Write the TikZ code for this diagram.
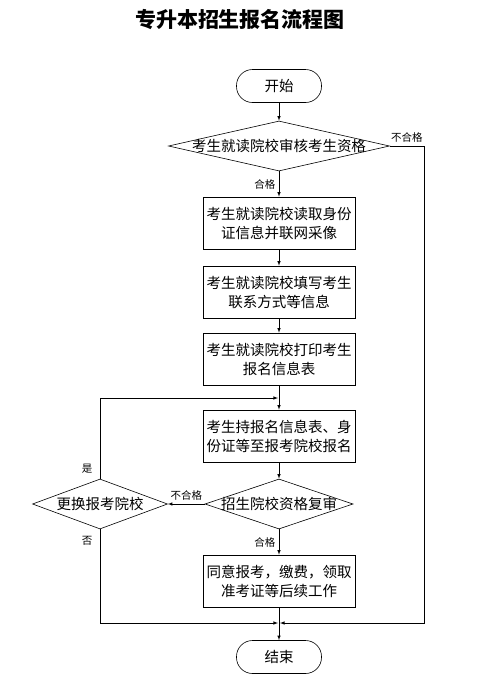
\documentclass[tikz,border=0pt]{standalone}
\usepackage{fontspec}
\setmainfont{Noto Sans CJK SC}
\usepackage{tikz}
\usetikzlibrary{shapes.geometric}

\begin{document}
\begin{tikzpicture}[x=1pt, y=-1pt, line width=0.6pt, >=latex,
  font=\fontsize{14.5}{19}\selectfont,
  term/.style={draw, rectangle, rounded corners=16pt, minimum width=85pt, minimum height=33pt},
  proc/.style={draw, rectangle, align=center, minimum width=152pt, minimum height=52pt, inner sep=2pt},
  decide/.style={draw, diamond, inner sep=0pt, minimum height=50pt},
  tag/.style={font=\fontsize{10.5}{12}\selectfont}]
\useasboundingbox (0,0) rectangle (486,689);
\node [font=\fontsize{21}{24}\selectfont\bfseries] (title) at (240,20) {专升本招生报名流程图};
\node [term] (start) at (279,86) {开始};
\node [decide, minimum width=221pt, label=center:{考生就读院校审核考生资格}] (check) at (279,146) {};
\node [proc] (read) at (279,223) {考生就读院校读取身份\\证信息并联网采像};
\node [proc] (fill) at (279,292) {考生就读院校填写考生\\联系方式等信息};
\node [proc] (print) at (279,359) {考生就读院校打印考生\\报名信息表};
\node [proc] (apply) at (279,436) {考生持报名信息表、身\\份证等至报考院校报名};
\node [decide, minimum width=148pt, label=center:{招生院校资格复审}] (recheck) at (279,504) {};
\node [decide, minimum width=135pt, label=center:{更换报考院校}] (change) at (100,504) {};
\node [proc] (pay) at (279,581) {同意报考，缴费，领取\\准考证等后续工作};
\node [term] (end) at (279,657) {结束};
\coordinate (loop) at (279,398);
\coordinate (join) at (279,623);
\coordinate (fail) at (424,146);
% main line
\draw [->] (start) -- (check);
\draw [->] (check) -- node [tag, left] {合格} (read);
\draw [->] (read) -- (fill);
\draw [->] (fill) -- (print);
\draw [->] (print) -- (apply);
\draw [->] (apply) -- (recheck);
\draw [->] (recheck) -- node [tag, left] {合格} (pay);
\draw [->] (pay) -- (end);
% side branches
\draw (check.east) -- node [tag, above] {不合格} (fail);
\draw [->, shorten >=1pt] (fail) |- (join);
\draw [->] (recheck.west) -- node [tag, above] {不合格} (change.east);
\draw [->, shorten >=1pt] (change.north) |- node [tag, left, pos=0.06, xshift=-4pt] {是} (loop);
\draw [->, shorten >=1pt] (change.south) |- node [tag, left, pos=0.06, xshift=-4pt] {否} (join);
\end{tikzpicture}
\end{document}
